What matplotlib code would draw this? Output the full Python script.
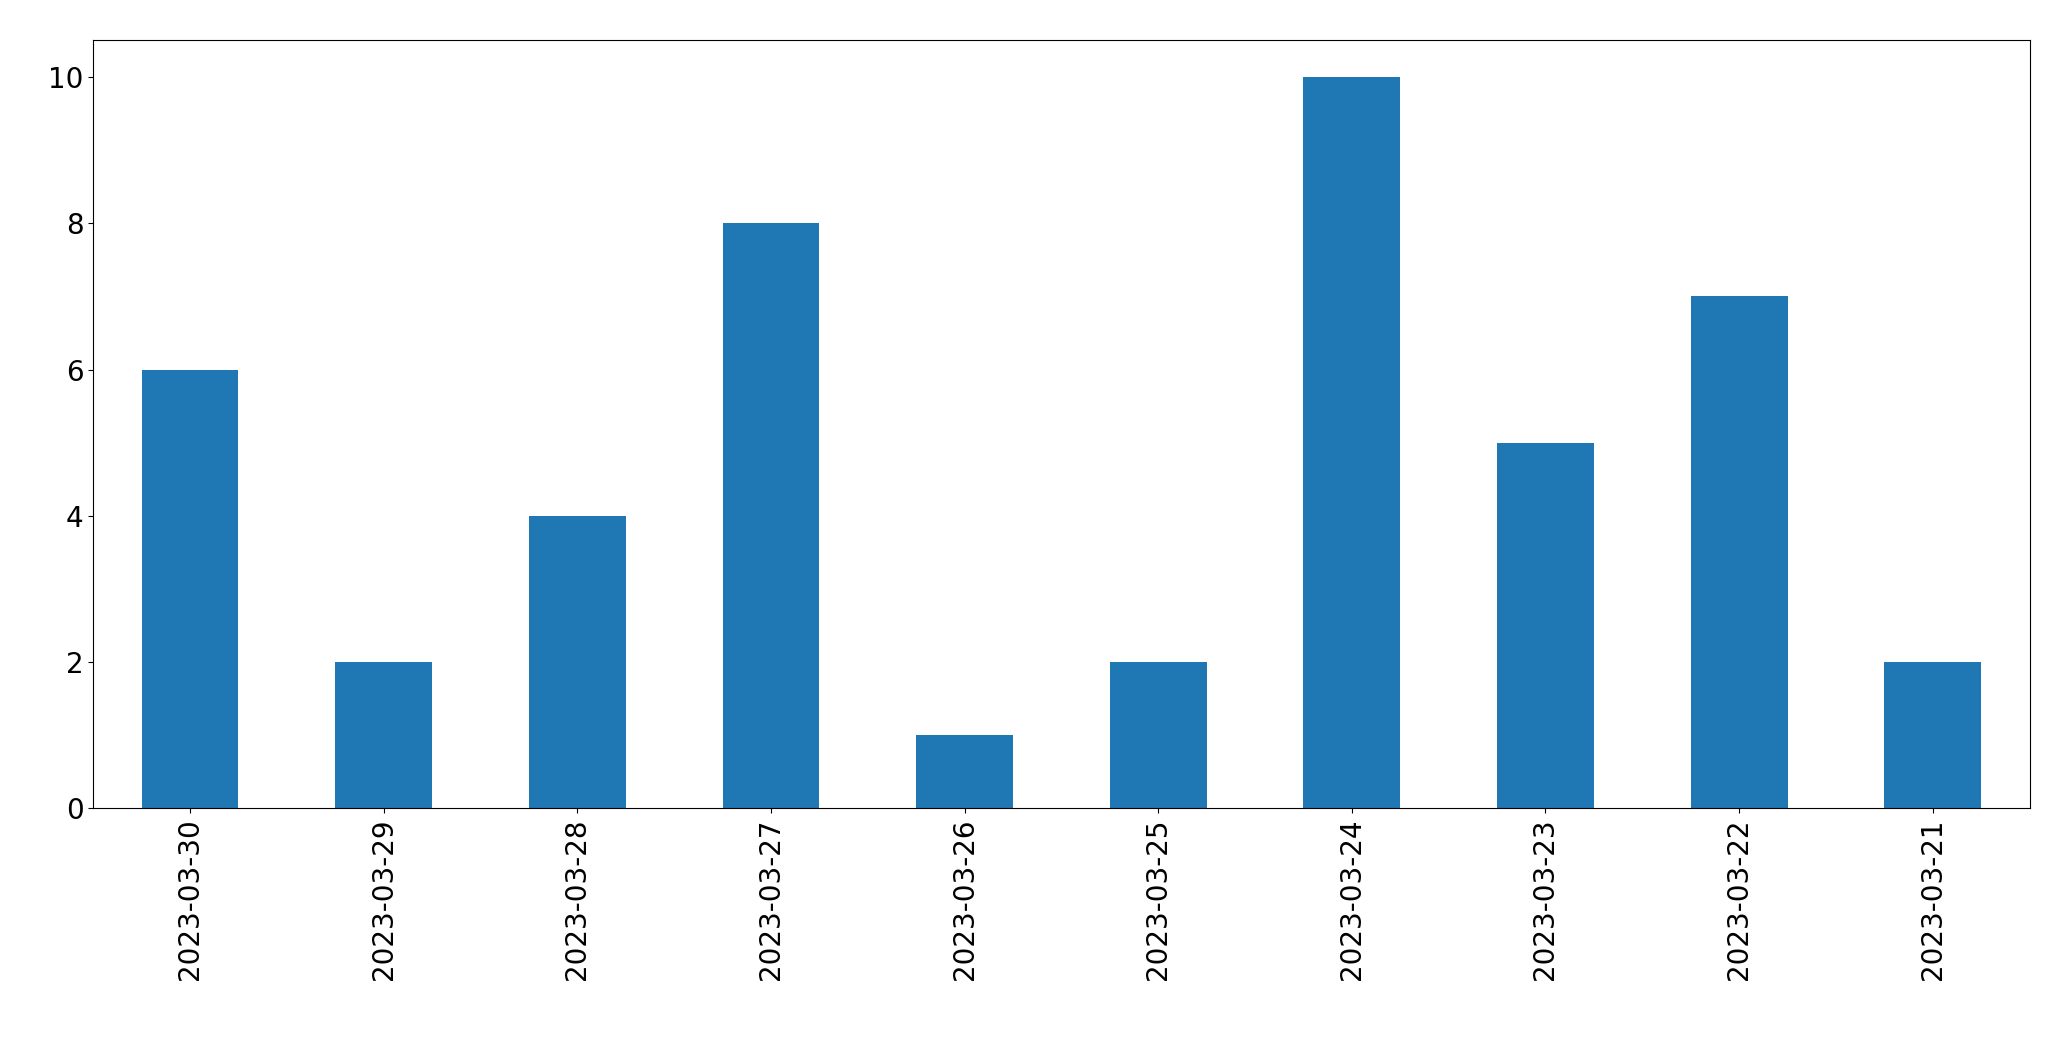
import matplotlib
matplotlib.use("Agg")
import matplotlib.pyplot as plt
import pandas as pd

dates = ["2023-03-30", "2023-03-29", "2023-03-28", "2023-03-27", "2023-03-26",
         "2023-03-25", "2023-03-24", "2023-03-23", "2023-03-22", "2023-03-21"]
counts = [6, 2, 4, 8, 1, 2, 10, 5, 7, 2]

s = pd.Series(counts, index=dates)

fig = plt.figure(figsize=(20.71, 10.61), dpi=100)
ax = fig.add_axes([0.045, 0.238, 0.935, 0.724])
s.plot.bar(ax=ax, color="#1f77b4")
ax.tick_params(labelsize=20)
fig.savefig("out.png", dpi=100)
